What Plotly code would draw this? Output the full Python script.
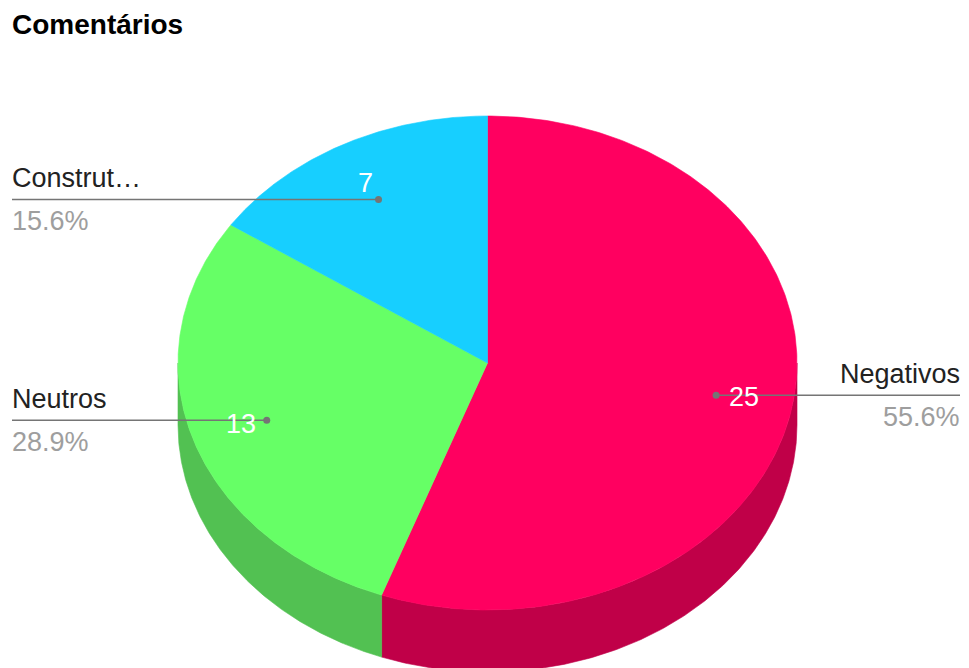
import numpy as np
import plotly.graph_objects as go

# ---- data ----
title_text = "Comentários"
labels = ["Negativos", "Neutros", "Construt…"]
values = [25, 13, 7]
top_colors = ["#FF0060", "#66FF66", "#17CFFF"]
side_colors = ["#C00048", "#52C152", "#1199C0"]

# ---- geometry (pixel space) ----
W, H = 969, 668
CX, CY, RX, RY, DEPTH = 487.5, 363.0, 309.5, 247.0, 62.0
LABEL_FRAC = 0.75
LEFT_X, RIGHT_X = 12, 960
value_offsets = [(28, 2), (-26, 4), (-13, -16)]

FONT = "Liberation Sans, Arial, sans-serif"


def pt(theta_deg, dy=0.0):
    t = np.radians(theta_deg)
    return CX + RX * np.sin(t), CY - RY * np.cos(t) + dy


fig = go.Figure()
total = float(sum(values))
fracs = [v / total for v in values]
starts = np.concatenate([[0.0], np.cumsum(fracs)[:-1]]) * 360.0
ends = np.cumsum(fracs) * 360.0

# side walls (visible lower half: 90..270 deg)
for i in range(len(values)):
    a, b = max(starts[i], 90.0), min(ends[i], 270.0)
    if b <= a:
        continue
    th = np.linspace(a, b, 200)
    xt, yt = pt(th)
    xb, yb = pt(th[::-1], DEPTH)
    xs = np.concatenate([xt, xb, xt[:1]])
    ys = np.concatenate([yt, yb, yt[:1]])
    fig.add_trace(go.Scatter(x=xs, y=ys, mode="lines", fill="toself",
                             fillcolor=side_colors[i],
                             line=dict(color=side_colors[i], width=0.6),
                             hoverinfo="skip", showlegend=False))

# top faces
for i in range(len(values)):
    th = np.linspace(starts[i], ends[i], 300)
    xa, ya = pt(th)
    xs = np.concatenate([[CX], xa, [CX]])
    ys = np.concatenate([[CY], ya, [CY]])
    fig.add_trace(go.Scatter(x=xs, y=ys, mode="lines", fill="toself",
                             fillcolor=top_colors[i],
                             line=dict(color=top_colors[i], width=0.6),
                             hoverinfo="skip", showlegend=False))

annotations = []
annotations.append(dict(x=LEFT_X, y=24, xref="x", yref="y", text="<b>" + title_text + "</b>",
                        showarrow=False, xanchor="left", yanchor="middle", xshift=-2,
                        font=dict(family=FONT, size=28, color="#000000")))

for i in range(len(values)):
    mid = (starts[i] + ends[i]) / 2.0
    t = np.radians(mid)
    dx = CX + LABEL_FRAC * RX * np.sin(t)
    dy = CY - LABEL_FRAC * RY * np.cos(t)
    right = np.sin(t) > 0
    ex = RIGHT_X if right else LEFT_X
    shift = 2 if right else -2
    # leader line
    fig.add_trace(go.Scatter(x=[dx, ex], y=[dy, dy], mode="lines",
                             line=dict(color="#757575", width=1.5),
                             hoverinfo="skip", showlegend=False))
    fig.add_trace(go.Scatter(x=[dx], y=[dy], mode="markers",
                             marker=dict(color="#757575", size=7),
                             hoverinfo="skip", showlegend=False))
    anchor = "right" if right else "left"
    annotations.append(dict(x=ex, y=dy - 21, xref="x", yref="y", text=labels[i],
                            showarrow=False, xanchor=anchor, yanchor="middle", xshift=shift,
                            font=dict(family=FONT, size=27, color="#222222")))
    annotations.append(dict(x=ex, y=dy + 22, xref="x", yref="y",
                            text=f"{100 * fracs[i]:.1f}%",
                            showarrow=False, xanchor=anchor, yanchor="middle", xshift=shift,
                            font=dict(family=FONT, size=27, color="#9E9E9E")))
    ox, oy = value_offsets[i]
    annotations.append(dict(x=dx + ox, y=dy + oy, xref="x", yref="y", text=str(values[i]),
                            showarrow=False, xanchor="center", yanchor="middle",
                            font=dict(family=FONT, size=27, color="#FFFFFF")))

fig.update_layout(
    width=W, height=H, autosize=False,
    margin=dict(l=0, r=0, t=0, b=0),
    paper_bgcolor="white", plot_bgcolor="white",
    xaxis=dict(range=[0, W], visible=False, fixedrange=True),
    yaxis=dict(range=[H, 0], visible=False, fixedrange=True),
    annotations=annotations,
    showlegend=False,
)

fig.write_html("out.html")
